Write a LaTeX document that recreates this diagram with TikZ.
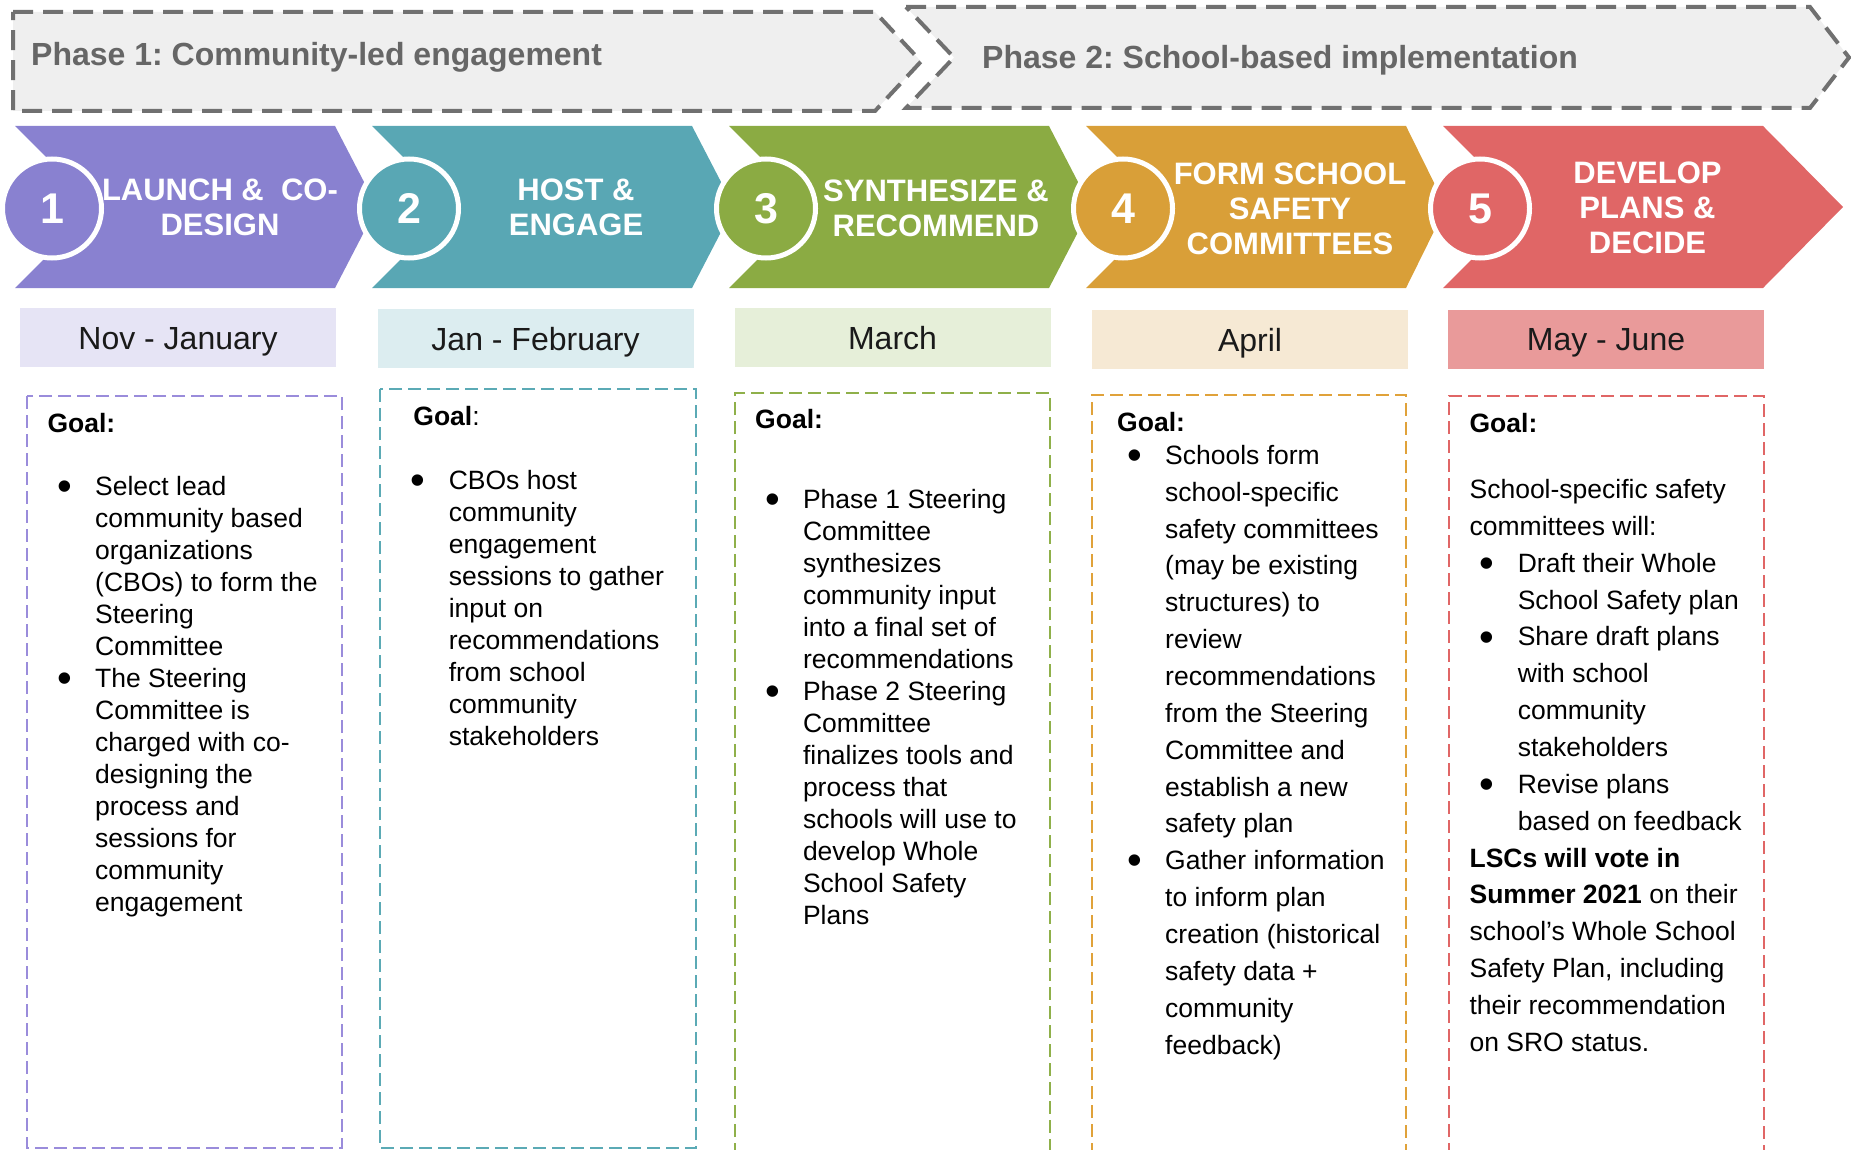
\documentclass[tikz,border=0pt]{standalone}
\usepackage{fontspec}
\setmainfont{Liberation Sans}
\frenchspacing
\definecolor{phasefill}{HTML}{EFEFEF}
\definecolor{phasedash}{HTML}{707070}
\definecolor{phasetext}{HTML}{666666}
\definecolor{cA}{HTML}{8981D0}
\definecolor{cB}{HTML}{59A7B4}
\definecolor{cC}{HTML}{8BAB43}
\definecolor{cD}{HTML}{D99F38}
\definecolor{cE}{HTML}{E06666}
\definecolor{mA}{HTML}{E6E4F5}
\definecolor{mB}{HTML}{DCEDF0}
\definecolor{mC}{HTML}{E6EFD9}
\definecolor{mD}{HTML}{F6E9D4}
\definecolor{mE}{HTML}{E99A9A}
\definecolor{dA}{HTML}{9A8CDB}
\definecolor{dB}{HTML}{5BAAB5}
\definecolor{dC}{HTML}{8FB04A}
\definecolor{dD}{HTML}{E0A23A}
\definecolor{dE}{HTML}{E06666}
\definecolor{monthtext}{HTML}{1A1A1A}
\newcommand\myLines[2]{\begin{tabular}[t]{@{}#1@{}}#2\end{tabular}}
\newcommand\myBul{\llap{\raisebox{-5.2pt}{\fontsize{42}{42}\selectfont\textbullet}\hspace{23.3pt}}}
\newcommand\myInd{\hspace*{48.2pt}}
\begin{document}
\begin{tikzpicture}[x=1pt,y=-1pt,
  phase/.style={fill=phasefill, draw=phasedash, line width=4pt, dash pattern=on 20pt off 10pt},
  goalbox/.style={line width=2pt, dash pattern=on 13pt off 6pt},
  numcirc/.style={circle, draw=white, line width=5pt, minimum size=99pt, inner sep=0pt, text=white,
    font=\fontsize{43}{43}\selectfont\bfseries, text height=31pt, text depth=0pt},
  steplabel/.style={anchor=base, inner sep=0pt, text=white, font=\fontsize{31}{35}\selectfont\bfseries},
  phasetitle/.style={anchor=base west, inner sep=0pt, text=phasetext, font=\fontsize{32}{32}\selectfont\bfseries},
  month/.style={rectangle, minimum width=316pt, minimum height=59pt, inner sep=0pt, text height=23pt, text depth=0pt,
    text=monthtext, font=\fontsize{32}{32}\selectfont},
  goal/.style={anchor=base west, inner sep=0pt, font=\fontsize{26.5}{32}\selectfont},
  body/.style={anchor=base west, inner sep=0pt, font=\fontsize{26.5}{32}\selectfont},
  bodywide/.style={anchor=base west, inner sep=0pt, font=\fontsize{26.5}{36.85}\selectfont}
]
\useasboundingbox (0,0) rectangle (1851,1150);

% phase banners
\draw[phase] (13,12) -- (875,12) -- (921,61.5) -- (875,111) -- (13,111) -- cycle;
\draw[phase] (906,7) -- (1810,7) -- (1849,57.5) -- (1810,108) -- (906,108) -- (954,57.5) -- cycle;
\node[phasetitle] (ph1) at (31,66) {Phase 1: Community-led engagement};
\node[phasetitle] (ph2) at (982,68.5) {Phase 2: School-based implementation};

% chevrons
\fill[cA] (15,126) -- (335,126) -- (377,207) -- (335,288) -- (15,288) -- (96,207) -- cycle;
\fill[cB] (372,126) -- (692,126) -- (734,207) -- (692,288) -- (372,288) -- (453,207) -- cycle;
\fill[cC] (729,126) -- (1049,126) -- (1091,207) -- (1049,288) -- (729,288) -- (810,207) -- cycle;
\fill[cD] (1086,126) -- (1406,126) -- (1446,207) -- (1406,288) -- (1086,288) -- (1167,207) -- cycle;
\fill[cE] (1443,126) -- (1763,126) -- (1843,207) -- (1763,288) -- (1443,288) -- (1524,207) -- cycle;

\node[numcirc, fill=cA] (n1) at (52,208.5) {1};
\node[numcirc, fill=cB] (n2) at (409,208.5) {2};
\node[numcirc, fill=cC] (n3) at (766,208.5) {3};
\node[numcirc, fill=cD] (n4) at (1123,208.5) {4};
\node[numcirc, fill=cE] (n5) at (1480,208.5) {5};

\node[steplabel] (l1) at (220,201) {\myLines{c}{LAUNCH \&\ \ CO-\\DESIGN}};
\node[steplabel] (l2) at (576,201) {\myLines{c}{HOST \&\\ENGAGE}};
\node[steplabel] (l3) at (936,201.5) {\myLines{c}{SYNTHESIZE \&\\RECOMMEND}};
\node[steplabel] (l4) at (1290,184.5) {\myLines{c}{FORM SCHOOL\\SAFETY\\COMMITTEES}};
\node[steplabel] (l5) at (1647.5,183.5) {\myLines{c}{DEVELOP\\PLANS \&\\DECIDE}};

% month boxes
\node[month, fill=mA] (m1) at (178,337.5) {Nov - January};
\node[month, fill=mB] (m2) at (535.5,338.5) {Jan - February};
\node[month, fill=mC] (m3) at (892.5,337.5) {March};
\node[month, fill=mD] (m4) at (1250,339.5) {April};
\node[month, fill=mE] (m5) at (1606,339) {May - June};

% goal boxes
\draw[goalbox, draw=dA] (27,396) rectangle (342,1148);
\draw[goalbox, draw=dB] (380,389) rectangle (696,1148);
\draw[goalbox, draw=dC] (735,1156) -- (735,393) -- (1050,393) -- (1050,1156);
\draw[goalbox, draw=dD] (1092,1156) -- (1092,395) -- (1406,395) -- (1406,1156);
\draw[goalbox, draw=dE] (1449,1156) -- (1449,396) -- (1764,396) -- (1764,1156);

% goal texts
\node[goal] (g1) at (47.3,432) {\textbf{Goal:}};
\node[body] (t1) at (95,495) {\myLines{l}{\myBul Select lead\\community based\\organizations\\(CBOs) to form the\\Steering\\Committee\\\myBul The Steering\\Committee is\\charged with co-\\designing the\\process and\\sessions for\\community\\engagement}};

\node[goal] (g2) at (413.2,425) {\textbf{Goal}:};
\node[body] (t2) at (448.6,489.3) {\myLines{l}{\myBul CBOs host\\community\\engagement\\sessions to gather\\input on\\recommendations\\from school\\community\\stakeholders}};

\node[goal] (g3) at (755,428) {\textbf{Goal:}};
\node[body] (t3) at (802.8,508.3) {\myLines{l}{\myBul Phase 1 Steering\\Committee\\synthesizes\\community input\\into a final set of\\recommendations\\\myBul Phase 2 Steering\\Committee\\finalizes tools and\\process that\\schools will use to\\develop Whole\\School Safety\\Plans}};

\node[goal] (g4) at (1117,431.5) {\textbf{Goal:}};
\node[bodywide] (t4) at (1165,464.4) {\myLines{l}{\myBul Schools form\\school-specific\\safety committees\\(may be existing\\structures) to\\review\\recommendations\\from the Steering\\Committee and\\establish a new\\safety plan\\\myBul Gather information\\to inform plan\\creation (historical\\safety data +\\community\\feedback)}};

\node[goal] (g5) at (1469.4,432.6) {\textbf{Goal:}};
\node[bodywide] (t5) at (1469.4,498.5) {\myLines{l}{School-specific safety\\committees will:\\\myInd\myBul Draft their Whole\\\myInd School Safety plan\\\myInd\myBul Share draft plans\\\myInd with school\\\myInd community\\\myInd stakeholders\\\myInd\myBul Revise plans\\\myInd based on feedback\\\textbf{LSCs will vote in}\\\textbf{Summer 2021} on their\\school’s Whole School\\Safety Plan, including\\their recommendation\\on SRO status.}};
\end{tikzpicture}
\end{document}
